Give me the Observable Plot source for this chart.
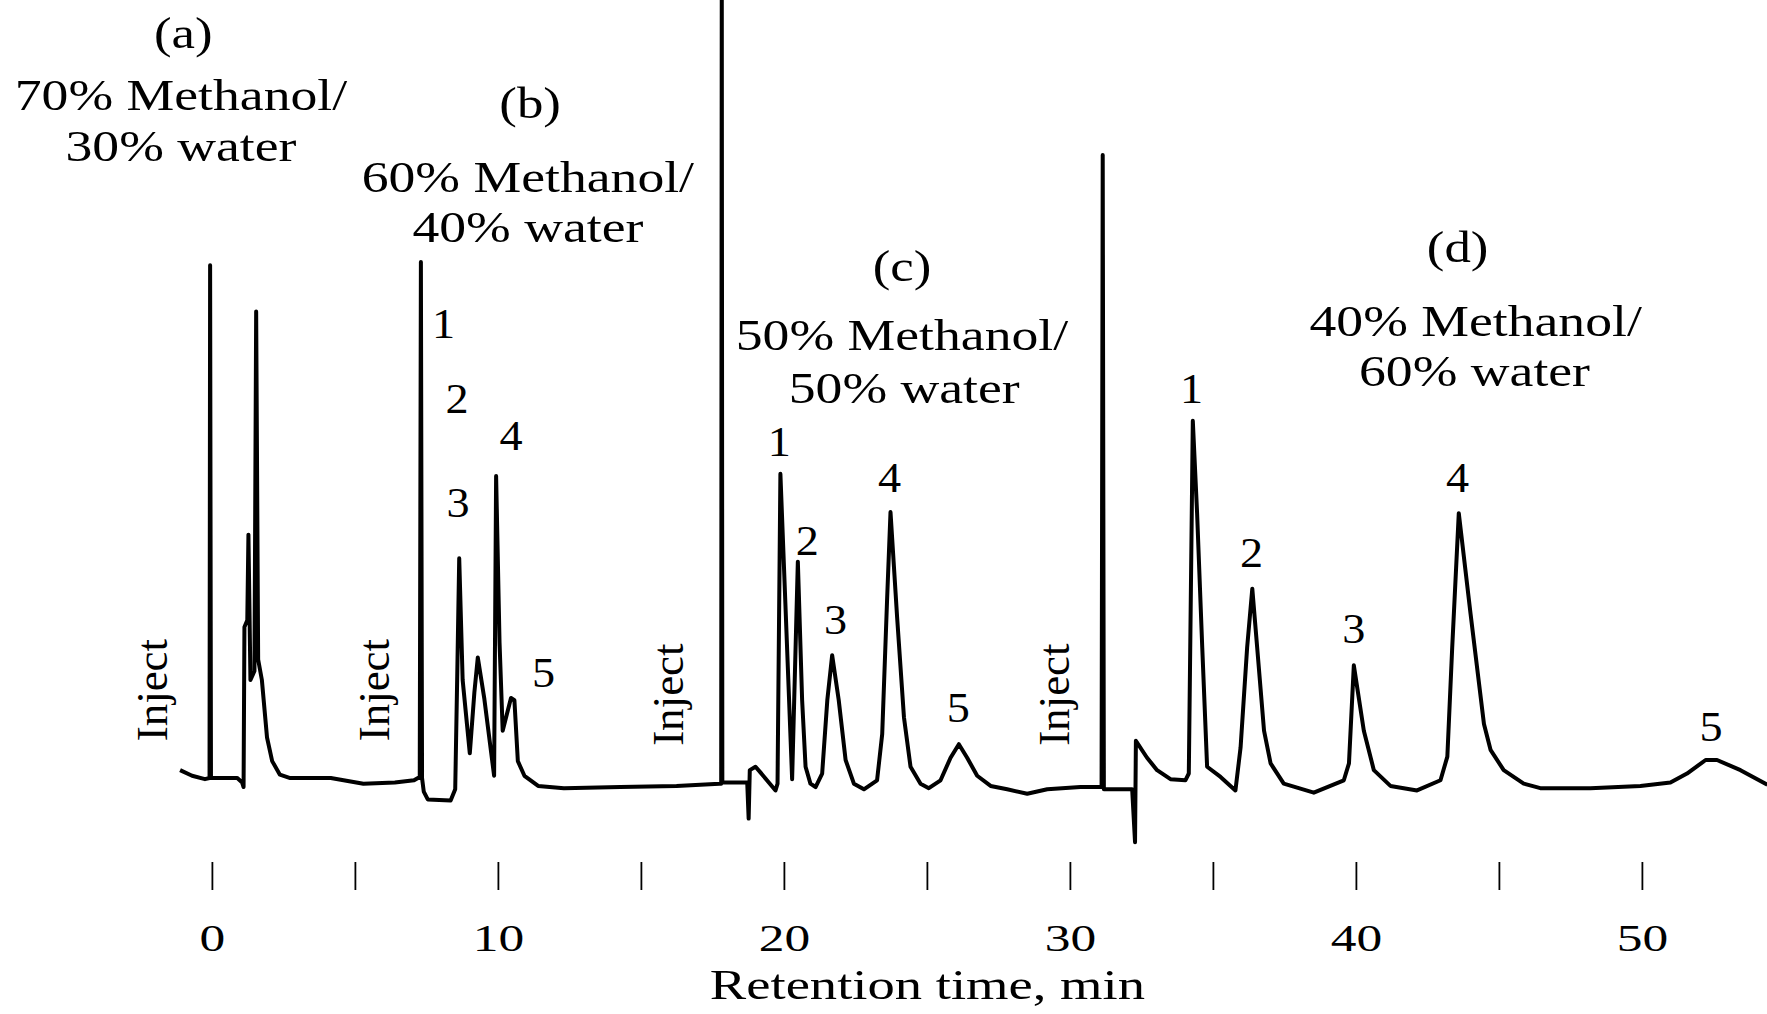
<!DOCTYPE html>
<html>
<head>
<meta charset="utf-8">
<script src="https://cdn.jsdelivr.net/npm/d3@7"></script>
<script src="https://cdn.jsdelivr.net/npm/@observablehq/plot@0.6"></script>
<style>
  html, body { margin: 0; padding: 0; background: #fff; }
</style>
</head>
<body>
<div id="chart"></div>
<script>
// Retention time (min) of each traced point of the chromatogram
const time = [
  -1.13, -0.71, -0.26, -0.10, -0.08, -0.05, 0.47, 0.87, 1.04, 1.09,
  1.12, 1.22, 1.26, 1.33, 1.47, 1.53, 1.60, 1.73, 1.91, 2.09,
  2.36, 2.72, 4.14, 5.28, 6.38, 7.05, 7.25, 7.29, 7.33, 7.39,
  7.53, 8.33, 8.49, 8.56, 8.63, 8.75, 9.00, 9.16, 9.28, 9.51,
  9.85, 9.92, 10.04, 10.15, 10.32, 10.44, 10.56, 10.68, 10.91, 11.39,
  12.29, 14.26, 16.23, 17.73, 17.79, 17.81, 17.83, 18.70, 18.75, 18.79,
  18.99, 19.16, 19.69, 19.76, 19.86, 20.27, 20.47, 20.62, 20.74, 20.91,
  21.09, 21.32, 21.50, 21.67, 21.90, 22.14, 22.43, 22.78, 23.24, 23.42,
  23.59, 23.71, 23.94, 24.18, 24.41, 24.76, 25.05, 25.46, 25.81, 26.10,
  26.39, 26.74, 27.21, 27.79, 28.49, 29.19, 30.35, 31.09, 31.13, 31.17,
  32.16, 32.26, 32.29, 32.68, 33.03, 33.50, 34.02, 34.14, 34.28, 34.43,
  34.61, 34.78, 35.25, 35.77, 35.95, 36.18, 36.36, 36.53, 36.77, 37.00,
  37.46, 38.51, 39.56, 39.74, 39.91, 40.26, 40.61, 41.19, 42.12, 42.94,
  43.18, 43.35, 43.58, 43.99, 44.46, 44.69, 45.15, 45.85, 46.43, 48.18,
  49.93, 50.98, 51.56, 52.21, 52.61, 53.43, 54.37
];
// Detector response (arbitrary units) at each of those times
const signal = [
  17, 12, 9, 10, 465, 10, 10, 10, 6, 2,
  144, 150, 226, 97, 105, 424, 115, 97, 46, 25,
  13, 10, 10, 5, 6, 8, 11, 468, 10, -2,
  -9, -10, 0, 100, 205, 97, 32, 86, 117, 80,
  12, 278, 130, 52, 69, 81, 79, 25, 12, 3,
  1, 2, 3, 5, 5, 730, 6, 6, -26, 17,
  20, 15, -1, 5, 280, 9, 202, 79, 20, 5,
  2, 14, 79, 119, 79, 26, 5, 0, 8, 49,
  168, 246, 153, 64, 20, 5, 1, 8, 28, 40,
  28, 12, 3, 0, -4, 0, 2, 2, 563, 0,
  0, -47, 43, 28, 17, 9, 8, 14, 327, 245,
  126, 20, 11, -1, 37, 126, 178, 126, 52, 23,
  5, -3, 8, 23, 110, 52, 17, 3, -1, 8,
  29, 126, 245, 156, 58, 35, 17, 5, 1, 1,
  3, 6, 14, 26, 26, 17, 4
];

// x-axis ticks
const tickValues = [0, 5, 10, 15, 20, 25, 30, 35, 40, 45, 50];
const tickLabelValues = [0, 10, 20, 30, 40, 50];
const axisTitle = "Retention time, min";

// Panel captions (mobile phase)
const captionText = [
  "(a)", "70% Methanol/", "30% water",
  "(b)", "60% Methanol/", "40% water",
  "(c)", "50% Methanol/", "50% water",
  "(d)", "40% Methanol/", "60% water"
];
const captionTime = [-1.02, -1.10, -1.10, 11.11, 11.03, 11.03, 24.11, 24.11, 24.19, 43.54, 44.17, 44.13];
const captionSignal = [670, 615, 570, 608, 543, 498, 464, 402, 355, 480, 415, 370];

// Peak numbers
const peakText = ["1", "2", "3", "4", "5", "1", "2", "3", "4", "5", "1", "2", "3", "4", "5"];
const peakTime = [8.08, 8.55, 8.59, 10.44, 11.58, 19.82, 20.80, 21.79, 23.68, 26.08, 34.24, 36.33, 39.91, 43.54, 52.40];
const peakSignal = [412, 346, 254, 313, 103, 308, 220, 150, 276, 72, 355, 209, 142, 276, 55];

// Injection markers
const injectText = ["Inject", "Inject", "Inject", "Inject"];
const injectTime = [-2.09, 5.67, 15.96, 29.43];
const injectSignal = [88, 88, 84, 84];

const trace = time.map((t, i) => ({t, v: signal[i]}));
const captions = captionText.map((s, i) => ({s, t: captionTime[i], v: captionSignal[i]}));
const peaks = peakText.map((s, i) => ({s, t: peakTime[i], v: peakSignal[i]}));
const injects = injectText.map((s, i) => ({s, t: injectTime[i], v: injectSignal[i]}));

const serif = "'Liberation Serif', 'Times New Roman', 'DejaVu Serif', serif";

const chart = Plot.plot({
  width: 1767,
  height: 1014,
  marginTop: 0,
  marginRight: 0,
  marginLeft: 0,
  marginBottom: 152,
  style: {background: "#fff", fontFamily: serif, color: "#000"},
  x: {domain: [0, 50], range: [211.9, 1641.9]},
  y: {domain: [0, 700], range: [788.8, 0], axis: null},
  marks: [
    Plot.axisX({
      ticks: tickValues,
      tickSize: 28,
      tickPadding: 33,
      tickFormat: d => tickLabelValues.includes(d) ? String(d) : "",
      fontSize: 39,
      fontFamily: serif,
      strokeWidth: 1.8,
      label: null
    }),
    Plot.text([axisTitle], {
      x: [25], y: [-174], text: d => d,
      fontSize: 43, fontFamily: serif, fill: "#000"
    }),
    Plot.line(trace, {
      x: "t", y: "v", stroke: "#000", strokeWidth: 4,
      strokeLinejoin: "round", strokeLinecap: "butt"
    }),
    Plot.text(captions, {
      x: "t", y: "v", text: "s",
      fontSize: 44, fontFamily: serif, fill: "#000"
    }),
    Plot.text(peaks, {
      x: "t", y: "v", text: "s",
      fontSize: 42, fontFamily: serif, fill: "#000"
    }),
    Plot.text(injects, {
      x: "t", y: "v", text: "s", rotate: -90,
      fontSize: 45, fontFamily: serif, fill: "#000"
    })
  ]
});

// The typeface of the original figure is wider than Liberation Serif:
// widen horizontal labels around their anchor point.
function widthFactor(s) {
  if (s === "Inject") return 1;
  if (/^\([a-d]\)$/.test(s)) return 1.2;
  if (/^[1-5]$/.test(s)) return 1.1;
  if (/^\d+$/.test(s)) return 1.32;
  if (s === axisTitle) return 1.27;
  return 1.22;
}
d3.select(chart).selectAll("text").each(function () {
  const s = this.textContent.trim();
  const k = widthFactor(s);
  if (k === 1 || !s) return;
  const tr = this.getAttribute("transform");
  if (tr) {
    this.setAttribute("transform", tr + ` scale(${k},1)`);
  } else {
    const x = +(this.getAttribute("x") || 0), y = +(this.getAttribute("y") || 0);
    this.removeAttribute("x"); this.removeAttribute("y");
    this.setAttribute("transform", `translate(${x},${y}) scale(${k},1)`);
  }
});

document.getElementById("chart").append(chart);
</script>
</body>
</html>
